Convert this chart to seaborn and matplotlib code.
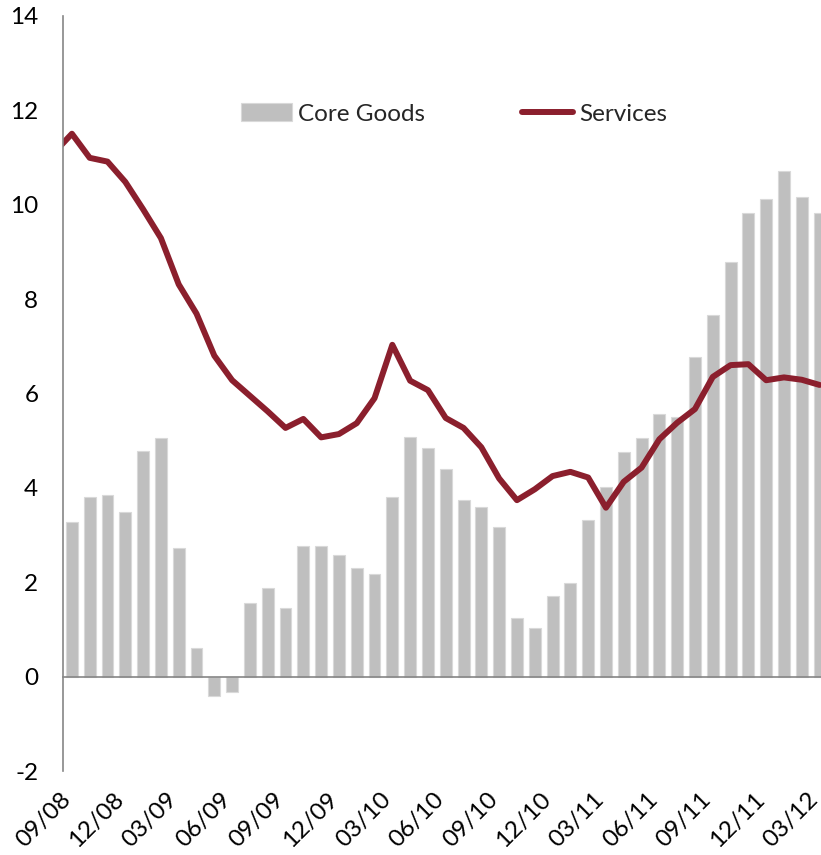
import numpy as np
import pandas as pd
import matplotlib
matplotlib.use("Agg")
import matplotlib.pyplot as plt
import matplotlib.transforms as mtransforms
import seaborn as sns

# monthly, 08/08 .. 03/12 (the line has one month before the first bar)
months = pd.date_range("2008-08-01", "2012-03-01", freq="MS").strftime("%m/%y").tolist()

# 09/08 .. 03/12
core_goods = [3.27, 3.81, 3.85, 3.49, 4.79, 5.06, 2.72, 0.61, -0.40, -0.33,
              1.57, 1.87, 1.45, 2.77, 2.77, 2.57, 2.30, 2.17, 3.80, 5.07,
              4.85, 4.40, 3.74, 3.60, 3.18, 1.25, 1.03, 1.70, 1.99, 3.32,
              4.01, 4.77, 5.05, 5.56, 5.51, 6.78, 7.66, 8.79, 9.82, 10.11,
              10.71, 10.16, 9.83]

# 08/08 .. 03/12
services = [11.10, 11.50, 10.99, 10.91, 10.48, 9.90, 9.29, 8.31, 7.69, 6.80,
            6.28, 5.95, 5.62, 5.27, 5.46, 5.07, 5.14, 5.37, 5.90, 7.03,
            6.27, 6.07, 5.48, 5.27, 4.86, 4.20, 3.74, 3.97, 4.25, 4.34,
            4.22, 3.58, 4.13, 4.43, 5.03, 5.38, 5.67, 6.35, 6.60, 6.62,
            6.28, 6.34, 6.29, 6.18]

tick_labels = ["09/08", "12/08", "03/09", "06/09", "09/09", "12/09", "03/10",
               "06/10", "09/10", "12/10", "03/11", "06/11", "09/11", "12/11",
               "03/12"]

bar_color = "#BFBFBF"
line_color = "#8B1F2D"
axis_color = "#868686"

df = pd.DataFrame({
    "month": months,
    "pos": np.arange(len(months)) - 1,
    "core_goods": [np.nan] + core_goods,
    "services": services,
})

sns.set_style("white")
plt.rcParams["font.family"] = ["Lato", "DejaVu Sans"]
plt.rcParams["axes.unicode_minus"] = False

W, H = 821, 855
fig = plt.figure(figsize=(W / 100, H / 100), dpi=100)
ax = fig.add_axes([63 / W, 1 - 771.2 / H, 1 - 63 / W, (771.2 - 15.7) / H])

sns.barplot(data=df.dropna(subset=["core_goods"]), x="pos", y="core_goods",
            native_scale=True, width=0.67, color=bar_color, saturation=1,
            edgecolor="#D9D9D9", linewidth=0.8, errorbar=None,
            label="Core Goods", ax=ax)
sns.lineplot(data=df, x="pos", y="services", color=line_color, linewidth=4.3,
             solid_joinstyle="round", solid_capstyle="round",
             label="Services", ax=ax)

ax.set_xlim(-0.5, 42.08)
ax.set_ylim(-2, 14)
ax.set_xlabel("")
ax.set_ylabel("")

for s in ["top", "right"]:
    ax.spines[s].set_visible(False)
ax.spines["left"].set_color(axis_color)
ax.spines["left"].set_linewidth(1.2)
ax.spines["bottom"].set_position(("data", 0))
ax.spines["bottom"].set_color(axis_color)
ax.spines["bottom"].set_linewidth(1.2)

fs = 17.5
ax.set_yticks(range(-2, 15, 2))
ax.set_yticklabels([str(v) for v in range(-2, 15, 2)])
ax.tick_params(axis="y", direction="out", length=5.8, width=1,
               color="#404040", pad=12, labelsize=fs, labelcolor="black")

ax.set_xticks(np.arange(0, 43, 3) - 0.5)
ax.set_xticklabels(tick_labels, rotation=45, ha="right", va="center",
                   rotation_mode="anchor")
ax.tick_params(axis="x", direction="out", length=5.8, width=1,
               color="#404040", pad=80, labelsize=fs, labelcolor="black")
shift = mtransforms.ScaledTranslation(4 / 100, 0, fig.dpi_scale_trans)
for lbl in ax.get_xticklabels():
    lbl.set_transform(lbl.get_transform() + shift)

handles, labels = ax.get_legend_handles_labels()
order = [labels.index("Core Goods"), labels.index("Services")]
ax.legend([handles[i] for i in order], [labels[i] for i in order],
          loc="center", bbox_to_anchor=(454 / W, 1 - 114 / H),
          bbox_transform=fig.transFigure, ncol=2, frameon=False, fontsize=fs,
          handlelength=2.1, handletextpad=0.25, columnspacing=4.0)

fig.savefig("out.png", dpi=100)
